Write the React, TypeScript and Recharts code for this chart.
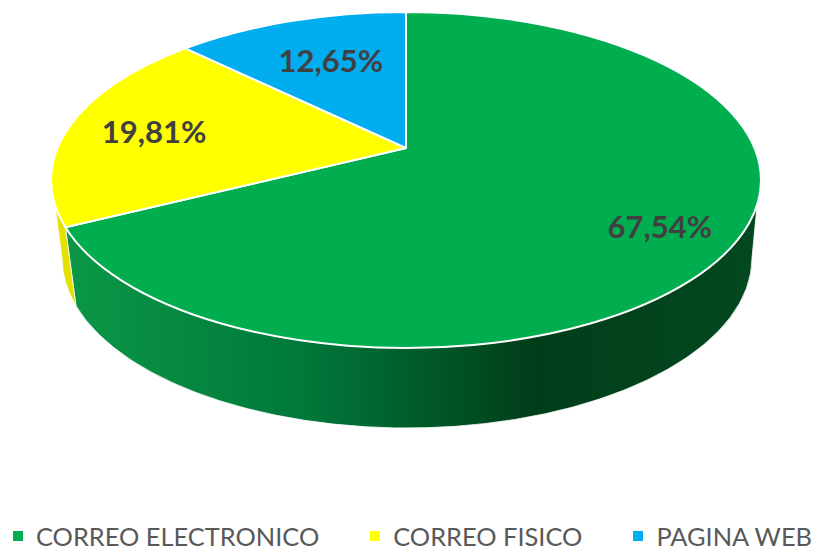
import React from "react";
import { PieChart, Pie, Legend } from "recharts";

const categories = ["CORREO ELECTRONICO", "CORREO FISICO", "PAGINA WEB"];
const shares = [67.54, 19.81, 12.65];
const topColors = ["#00ae50", "#ffff00", "#00adef"];
const wallColors = ["url(#wallGreen)", "#e4e100", "#0088c0"];
// how far along its own direction each label sits, and a small vertical nudge
const labelReach = [298, 255, 194];
const labelNudge = [6, 1, -6];

const data = categories.map((name, i) => ({
  name,
  value: shares[i],
  fill: topColors[i],
  wallFill: wallColors[i],
}));

const CX = 406;
const CY = 180;
const RADIUS = 355;
const RY = 168;
const APEX_UP = 32; // slices meet above the ellipse centre (perspective)
const TILT = 0.46;
const BOTTOM = { cx: 407, cy: 258, rx: 345, ry: 170 };
const VISIBLE_FROM = (8.5 * Math.PI) / 180;
const VISIBLE_TO = (171.5 * Math.PI) / 180;

const rad = (d: number) => (d * Math.PI) / 180;

// recharts angle -> position on the top ellipse, as ellipse parameter
const ellipseParam = (angle: number) => {
  const t = rad(90 - angle);
  const dx = Math.sin(t);
  const dy = -TILT * Math.cos(t);
  const a = (dx * dx) / (RADIUS * RADIUS) + (dy * dy) / (RY * RY);
  const b = (2 * dy * -APEX_UP) / (RY * RY);
  const c = (APEX_UP * APEX_UP) / (RY * RY) - 1;
  const s = (-b + Math.sqrt(b * b - 4 * a * c)) / (2 * a);
  const x = dx * s;
  const y = -APEX_UP + dy * s;
  let phi = Math.atan2(y / RY, x / RADIUS);
  if (phi < -Math.PI / 2 - 1e-6) phi += 2 * Math.PI;
  return phi;
};

const topPoint = (phi: number) => [CX + RADIUS * Math.cos(phi), CY + RY * Math.sin(phi)];
const bottomPoint = (phi: number) => [
  BOTTOM.cx + BOTTOM.rx * Math.cos(phi),
  BOTTOM.cy + BOTTOM.ry * Math.sin(phi),
];

const unroll = (angleFrom: number, angleTo: number) => {
  const p0 = ellipseParam(angleFrom);
  let p1 = ellipseParam(angleTo);
  if (p1 <= p0) p1 += 2 * Math.PI;
  return [p0, p1];
};

const TopSlice = (props: any) => {
  const { startAngle, endAngle, fill } = props;
  const [p0, p1] = unroll(startAngle, endAngle);
  const [x0, y0] = topPoint(p0);
  const [x1, y1] = topPoint(p1);
  const large = p1 - p0 > Math.PI ? 1 : 0;
  const d = `M${CX},${CY - APEX_UP} L${x0},${y0} A${RADIUS},${RY} 0 ${large} 1 ${x1},${y1} Z`;
  return <path d={d} fill={fill} stroke="#ffffff" strokeWidth={2} strokeLinejoin="round" />;
};

const WallSlice = (props: any) => {
  const { startAngle, endAngle, wallFill } = props;
  const [p0, p1] = unroll(startAngle, endAngle);
  const a = Math.max(p0, VISIBLE_FROM);
  const b = Math.min(p1, VISIBLE_TO);
  if (a >= b) return <g />;
  const [x0, y0] = topPoint(a);
  const [x1, y1] = topPoint(b);
  const [bx1, by1] = bottomPoint(b === VISIBLE_TO ? Math.PI : b);
  const [bx0, by0] = bottomPoint(a === VISIBLE_FROM ? 0 : a);
  const d =
    `M${x0},${y0} A${RADIUS},${RY} 0 0 1 ${x1},${y1} L${bx1},${by1} ` +
    `A${BOTTOM.rx},${BOTTOM.ry} 0 0 0 ${bx0},${by0} Z`;
  return <path d={d} fill={wallFill} stroke="#ffffff" strokeWidth={0.8} strokeLinejoin="round" />;
};

const renderLabel = (props: any) => {
  const { midAngle, index, value } = props;
  const t = rad(90 - midAngle);
  const x = CX + Math.sin(t) * labelReach[index];
  const y = CY - APEX_UP - TILT * Math.cos(t) * labelReach[index] + labelNudge[index];
  return (
    <text
      x={x}
      y={y}
      textAnchor="middle"
      dominantBaseline="central"
      fontFamily="Lato"
      fontWeight={700}
      fontSize={31}
      fill="#404040"
    >
      {value.toFixed(2).replace(".", ",") + "%"}
    </text>
  );
};

const renderLegend = (props: any) => (
  <div style={{ display: "flex", fontFamily: "Lato", fontSize: 25.4, color: "#595959", lineHeight: "22px" }}>
    {(props.payload || [])
      .filter((item: any) => item.type !== "none")
      .map((item: any, i: number) => (
        <div key={item.value} style={{ display: "flex", alignItems: "center", marginLeft: i === 0 ? 13 : 51 }}>
          <span style={{ width: 10, height: 10, background: item.color, marginRight: 13 }} />
          <span style={{ whiteSpace: "nowrap" }}>{item.value}</span>
        </div>
      ))}
  </div>
);

export default function App() {
  return (
    <div style={{ position: "absolute", left: 0, top: 0, width: 817, height: 548, background: "#fff" }}>
      <PieChart width={817} height={548} margin={{ top: 0, right: 0, bottom: 0, left: 0 }}>
        <defs>
          <linearGradient id="wallGreen" gradientUnits="userSpaceOnUse" x1="60" y1="0" x2="757" y2="0">
            <stop offset="0" stopColor="#0b9847" />
            <stop offset="0.35" stopColor="#00783a" />
            <stop offset="0.49" stopColor="#005f2b" />
            <stop offset="0.68" stopColor="#003e19" />
            <stop offset="1" stopColor="#03481f" />
          </linearGradient>
        </defs>
        <Pie
          data={data}
          dataKey="value"
          nameKey="name"
          cx={CX}
          cy={CY}
          outerRadius={RADIUS}
          startAngle={90}
          endAngle={-270}
          legendType="none"
          shape={WallSlice}
          isAnimationActive={false}
        />
        <Pie
          data={data}
          dataKey="value"
          nameKey="name"
          cx={CX}
          cy={CY}
          outerRadius={RADIUS}
          startAngle={90}
          endAngle={-270}
          shape={TopSlice}
          label={renderLabel}
          labelLine={false}
          isAnimationActive={false}
        />
        <Legend
          verticalAlign="bottom"
          align="left"
          iconType="square"
          content={renderLegend}
          wrapperStyle={{ left: 0, bottom: 1, width: 817 }}
        />
      </PieChart>
    </div>
  );
}
